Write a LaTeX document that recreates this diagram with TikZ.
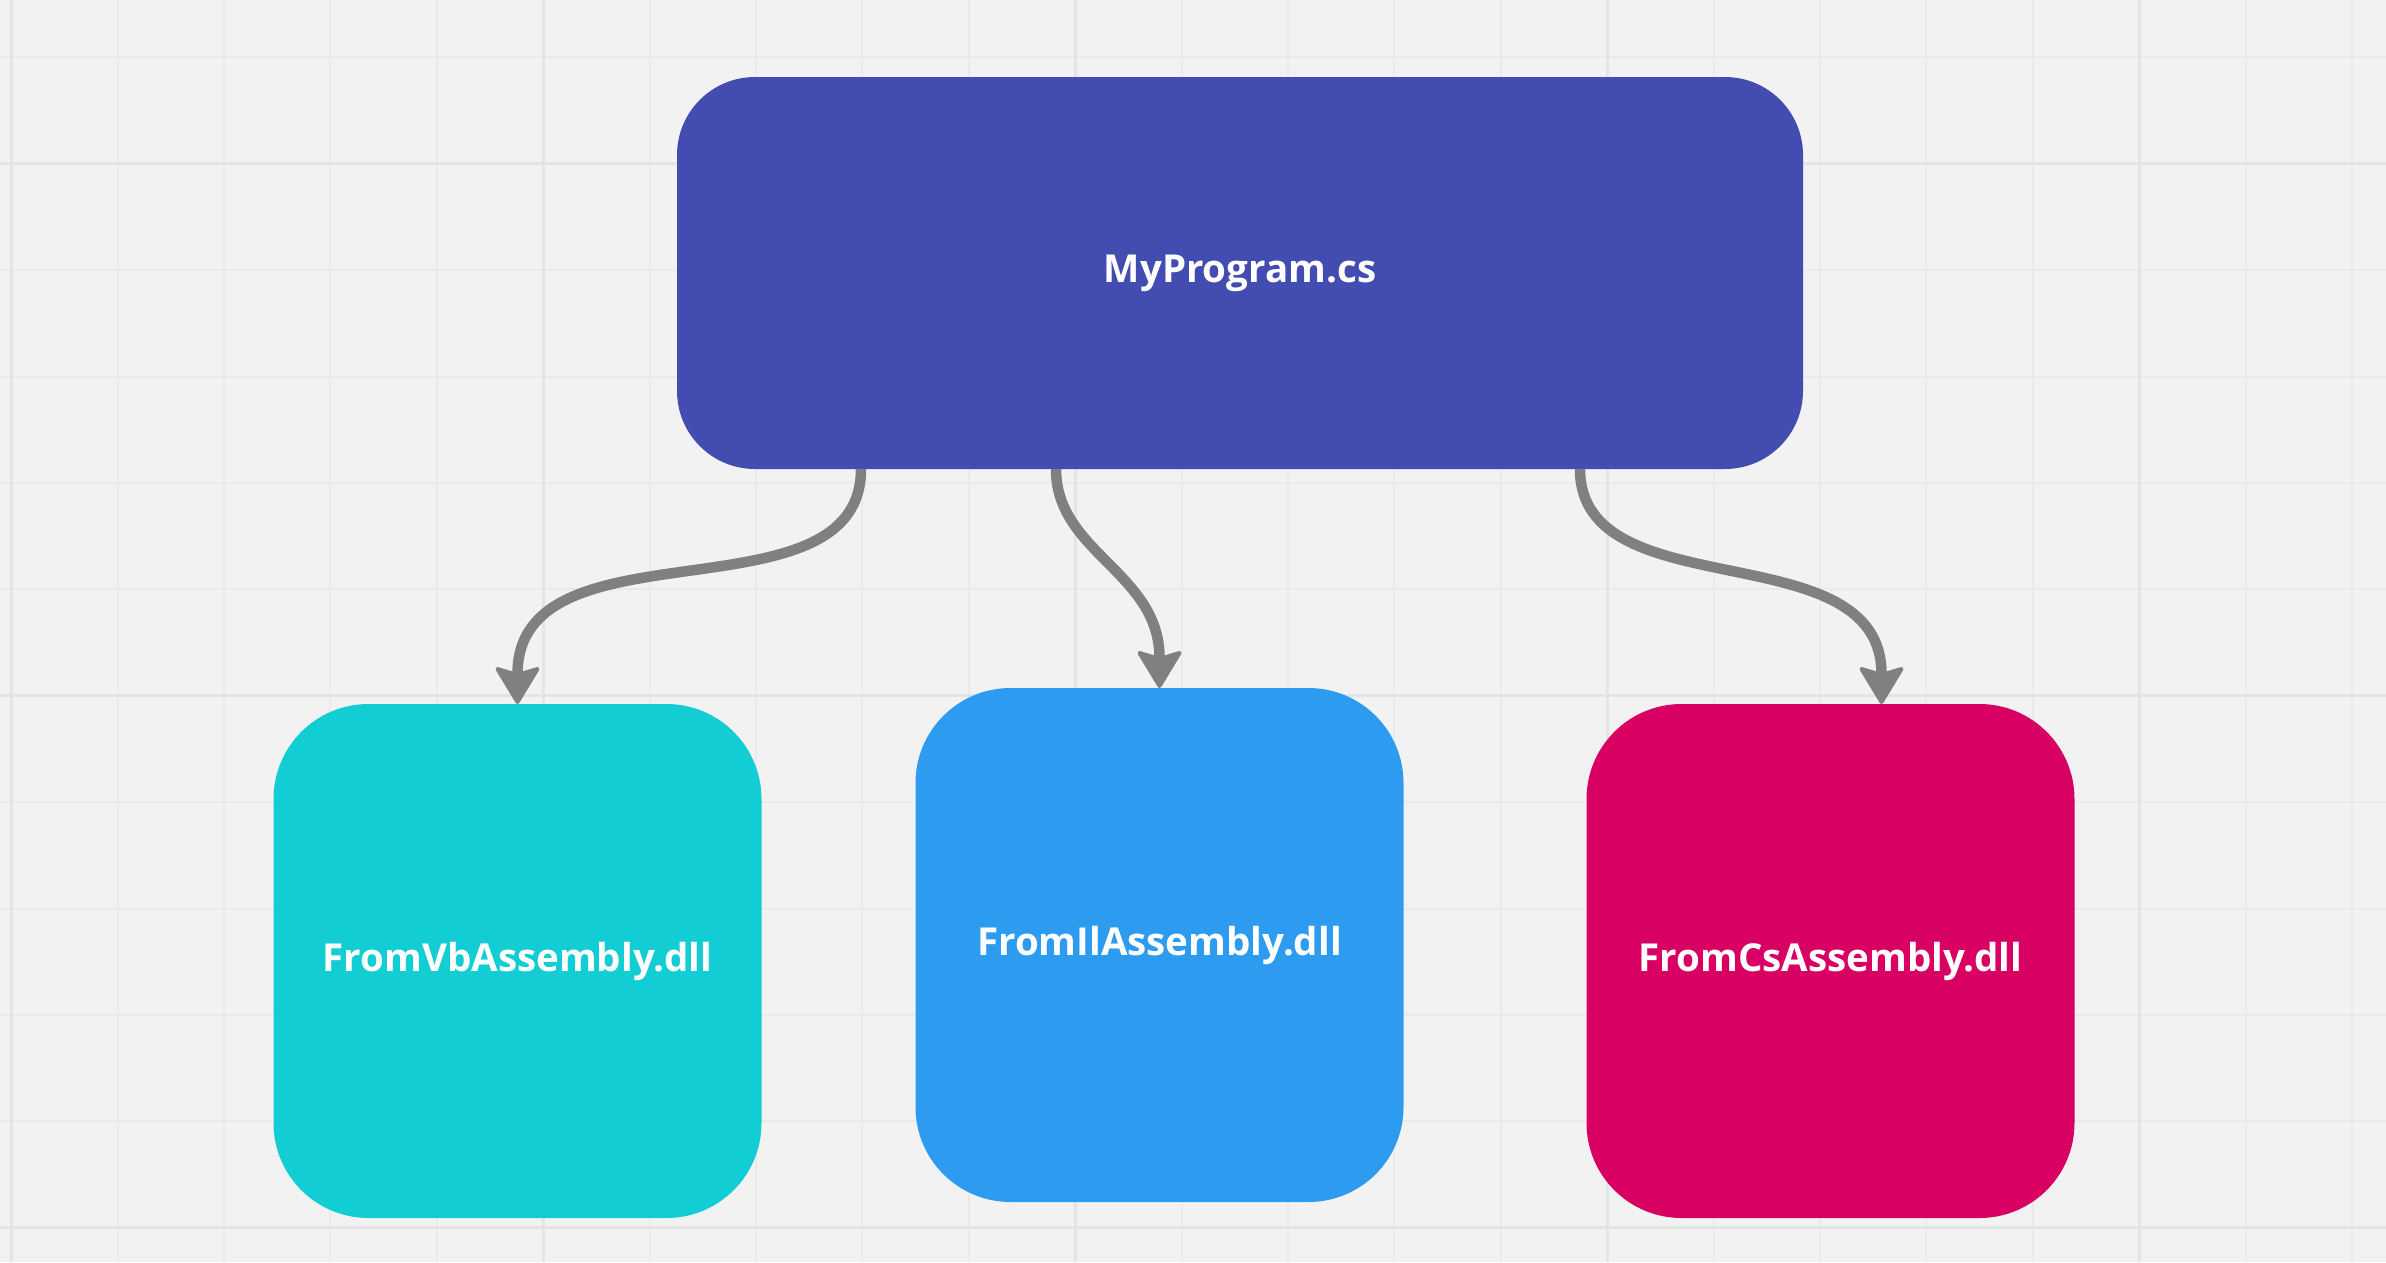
\documentclass[tikz,border=0pt]{standalone}
\usepackage{fontspec}
\setmainfont{Open Sans}
\usetikzlibrary{positioning,arrows.meta}

\definecolor{canvas}{HTML}{F2F2F2}
\definecolor{gridthin}{HTML}{EAEAEA}
\definecolor{gridthick}{HTML}{E4E4E4}
\definecolor{progblue}{HTML}{434DB1}
\definecolor{vbcyan}{HTML}{12CDD4}
\definecolor{ilblue}{HTML}{2D9BF0}
\definecolor{cspink}{HTML}{D90063}
\definecolor{linkgray}{HTML}{808080}

\begin{document}
\begin{tikzpicture}[
        x=1pt, y=-1pt,
        minorline/.style={draw=gridthin, line width=2pt},
        majorline/.style={draw=gridthick, line width=3pt},
        boxnode/.style={rectangle, text=white, outer sep=0pt, inner sep=0pt, font=\fontsize{38.5pt}{42pt}\selectfont\bfseries},
        topnode/.style={boxnode, fill=progblue, rounded corners=78pt, minimum width=1126pt, minimum height=392pt},
        leafnode/.style={boxnode, rounded corners=95pt, minimum width=488pt, minimum height=514pt},
        link/.style={draw=linkgray, line width=10.5pt, out=-90, in=90, shorten >=-32pt,
                -{Stealth[length=40pt, width=48pt, inset=7pt, round, line width=4pt]}},
        node distance=219pt
        ]
        % canvas and grid
        \fill[canvas] (0,0) rectangle (2386,1262);
        \useasboundingbox (0,0) rectangle (2386,1262);
        \foreach \gx in {0,...,22}
            \draw[minorline] ({11.2+106.4*\gx},0) -- ({11.2+106.4*\gx},1262);
        \foreach \gy in {0,...,11}
            \draw[minorline] (0,{57.3+106.4*\gy}) -- (2386,{57.3+106.4*\gy});
        \foreach \gx in {0,...,4}
            \draw[majorline] ({11.2+532*\gx},0) -- ({11.2+532*\gx},1262);
        \foreach \gy in {0,1,2}
            \draw[majorline] (0,{163.7+532*\gy}) -- (2386,{163.7+532*\gy});

        \node[topnode]                  (main) at (1240,273)                    {MyProgram.cs};
        \node[leafnode, fill=ilblue]    (il)   [below=of main, xshift=-80.5pt]  {FromIlAssembly.dll};
        \node[leafnode, fill=vbcyan]    (vb)   [left=154pt of il, yshift=-16pt] {FromVbAssembly.dll};
        \node[leafnode, fill=cspink]    (cs)   [right=183pt of il, yshift=-16pt] {FromCsAssembly.dll};
        \path
        ([xshift=184pt]main.south west)   edge[link]    ([yshift=32pt]vb.north)
        ([xshift=379pt]main.south west)   edge[link]    ([yshift=32pt]il.north)
        ([xshift=903pt]main.south west)   edge[link]    ([xshift=51pt, yshift=32pt]cs.north);
    \end{tikzpicture}
\end{document}
